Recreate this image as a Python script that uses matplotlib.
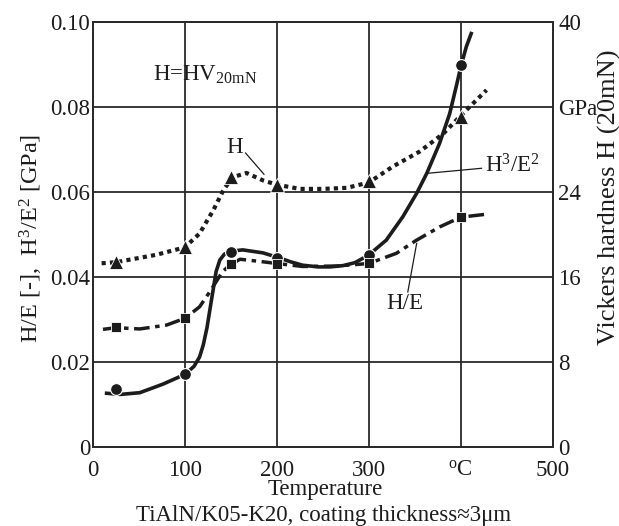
import numpy as np
import matplotlib
matplotlib.use("Agg")
import matplotlib.pyplot as plt

plt.rcParams['font.family'] = ['Liberation Serif', 'DejaVu Serif']
plt.rcParams['mathtext.fontset'] = 'custom'
plt.rcParams['mathtext.rm'] = 'Liberation Serif'
plt.rcParams['mathtext.it'] = 'Liberation Serif:italic'

# measured points
temps = [25, 100, 150, 200, 300, 400]
h_gpa = [17.4, 18.8, 25.4, 24.7, 25.0, 31.1]
h_over_e = [0.0283, 0.0303, 0.0430, 0.0430, 0.0432, 0.0541]
h3_over_e2 = [0.0136, 0.0171, 0.0459, 0.0444, 0.0453, 0.0900]

# traced fit curves
h_curve_t = [9.5, 25, 69, 100, 116, 131, 142, 152, 167, 185, 200, 225, 250, 276,
             300, 326, 355, 381, 400, 414, 428]
h_curve_v = [17.3, 17.4, 18.1, 18.8, 20.1, 22.3, 24.2, 25.4, 25.8, 25.1, 24.7, 24.3,
             24.3, 24.4, 24.9, 26.4, 27.8, 29.5, 31.2, 32.4, 33.6]

he_curve_t = [11, 25, 51, 80, 100, 116, 127, 141, 150, 160, 185, 200, 228, 265,
              300, 330, 352, 377, 400, 428]
he_curve_v = [0.0277, 0.0281, 0.0278, 0.0287, 0.0303, 0.0330, 0.0365, 0.0413, 0.0430,
              0.0442, 0.0436, 0.0432, 0.0425, 0.0426, 0.0432, 0.0456, 0.0487, 0.0518,
              0.0541, 0.0548]

h3_curve_t = [13, 30, 51, 76, 100, 110, 116, 120, 124, 127, 130, 134, 138, 143, 150,
              163, 185, 200, 215, 228, 245, 258, 272, 285, 300, 319, 337, 352, 363,
              377, 388, 395, 400, 406, 412]
h3_curve_v = [0.0127, 0.0124, 0.0128, 0.0148, 0.0171, 0.0190, 0.0212, 0.0240, 0.0280,
              0.0320, 0.0360, 0.0413, 0.0440, 0.0454, 0.0461, 0.0464, 0.0457, 0.0447,
              0.0436, 0.0428, 0.0424, 0.0424, 0.0427, 0.0434, 0.0452, 0.0487, 0.0542,
              0.0597, 0.0644, 0.0715, 0.0785, 0.0848, 0.0895, 0.0942, 0.0977]

x_ticks = [0, 100, 200, 300, 400, 500]
x_ticklabels = ['0', '100', '200', '300', '$^{\\mathrm{o}}$C', '500']
left_ticks = [0, 0.02, 0.04, 0.06, 0.08, 0.10]
left_ticklabels = ['0', '0.02', '0.04', '0.06', '0.08', '0.10']
right_ticks = [0, 8, 16, 24, 32, 40]
right_ticklabels = ['0', '8', '16', '24', 'GPa', '40']

ink = '#1c1c1c'

fig = plt.figure(figsize=(6.19, 5.26), dpi=100)
ax = fig.add_axes([0.150, 0.150, 0.743, 0.808])
ax2 = ax.twinx()

# H3/E2 - solid
ax.plot(h3_curve_t, h3_curve_v, color=ink, lw=2.6, solid_capstyle='butt', zorder=3)
ax.plot(temps, h3_over_e2, 'o', color=ink, ms=8.5, mec='white', mew=0.8, zorder=4)

# H/E - dash dot
ax.plot(he_curve_t, he_curve_v, color=ink, lw=2.5, dashes=(4.5, 1.6, 1.3, 1.6),
        dash_capstyle='butt', zorder=3)
ax.plot(temps, h_over_e, 's', color=ink, ms=7.5, mec='white', mew=0.6, zorder=4)

# H - dotted, on right axis
ax2.plot(h_curve_t, h_curve_v, color=ink, lw=3.0, dashes=(1, 1),
         dash_capstyle='butt', zorder=3)
ax2.plot(temps, h_gpa, '^', color=ink, ms=9.5, mec='white', mew=0.6, zorder=4)

ax.set_xlim(0, 500)
ax.set_ylim(0, 0.10)
ax2.set_ylim(0, 40)

ax.set_xticks(x_ticks)
ax.set_xticklabels(x_ticklabels)
ax.set_yticks(left_ticks)
ax.set_yticklabels(left_ticklabels)
ax2.set_yticks(right_ticks)
ax2.set_yticklabels(right_ticklabels)

ax.grid(True, color='#2a2a2a', lw=1.3)
ax.set_axisbelow(True)
for a in (ax, ax2):
    for s in a.spines.values():
        s.set_linewidth(1.4)
        s.set_color('#2a2a2a')
ax.tick_params(axis='both', length=0, labelsize=16.5, colors=ink)
ax.tick_params(axis='x', pad=9)
ax.tick_params(axis='y', pad=2)
ax2.tick_params(axis='y', length=0, labelsize=16.5, colors=ink, pad=4)

# axis titles
fig.text(31.7 / 619, 1 - 238 / 526, 'H/E [-],  H$^3$/E$^2$ [GPa]', fontsize=17.5,
         rotation=90, ha='center', va='center', color=ink)
fig.text(609 / 619, 1 - 197 / 526, 'Vickers hardness H (20mN)', fontsize=19,
         rotation=90, ha='center', va='center', color=ink)
fig.text(325 / 619, 1 - 489 / 526, 'Temperature', fontsize=16.5,
         ha='center', va='center', color=ink)
fig.text(324 / 619, 1 - 515 / 526, 'TiAlN/K05-K20, coating thickness≈3μm', fontsize=16.5,
         ha='center', va='center', color=ink)

# annotations
ax.text(122, 0.0875, 'H=HV$_{\\mathrm{20mN}}$', fontsize=16.5, ha='center', va='center',
        color=ink)
ax.text(154, 0.0704, 'H', fontsize=16.5, ha='center', va='center', color=ink)
ax.plot([166, 186], [0.0692, 0.0642], color=ink, lw=0.9)
ax.text(426, 0.0662, 'H$^3$/E$^2$', fontsize=16.5, ha='left', va='center', color=ink)
ax.plot([362.7, 422.5], [0.0644, 0.0656], color=ink, lw=0.9)
ax.text(339, 0.0338, 'H/E', fontsize=16.5, ha='center', va='center', color=ink)
ax.plot([352, 342.4], [0.0479, 0.0365], color=ink, lw=0.9)

fig.savefig('out.png', dpi=100)
